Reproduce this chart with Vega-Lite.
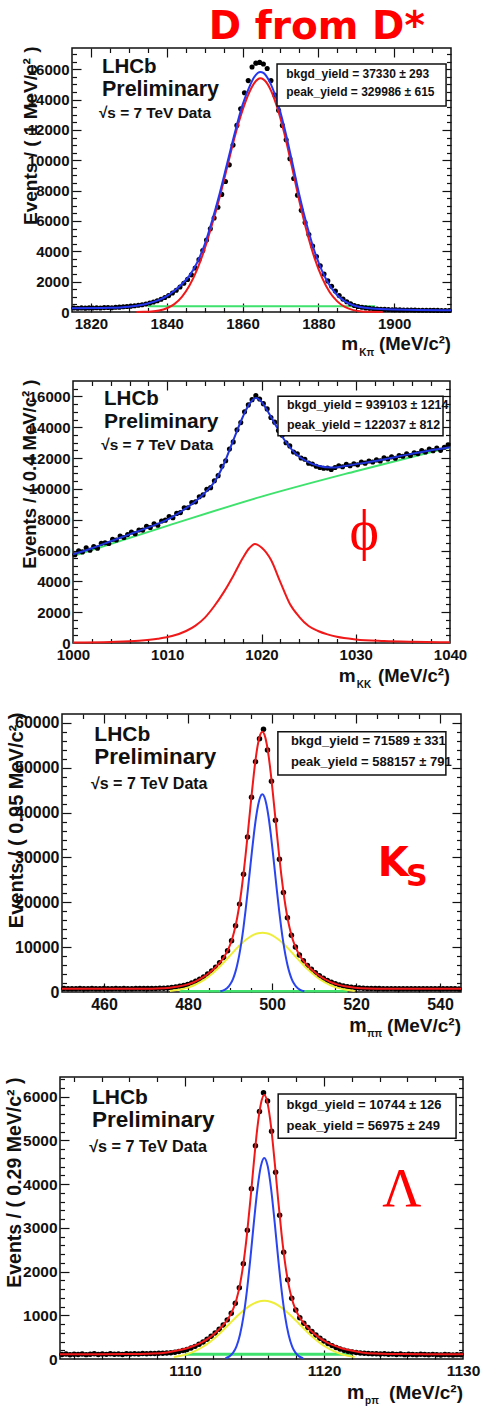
{
"$schema": "https://vega.github.io/schema/vega-lite/v6.json",
"autosize": {"type": "pad"},
"padding": {"left": 3, "top": 7, "right": 0, "bottom": 0},
"background": "white",
"bounds": "flush",
"center": true,
"spacing": 0,
"config": {
  "view": {"stroke": "#111", "strokeWidth": 1.5},
  "font": "Liberation Sans",
  "axis": {"domain": false, "grid": false, "labelFont": "Liberation Sans", "labelFontWeight": "bold", "labelColor": "#111", "labelFlush": false, "labelOverlap": false, "labelBound": false, "tickColor": "#111", "tickWidth": 1.2, "titleFont": "Liberation Sans", "titleFontWeight": "bold", "titleColor": "#111"},
  "text": {"font": "Liberation Sans", "fontWeight": "bold", "color": "#111"}
},
"datasets": {
"p1d": [{"x":1815.5,"y":260},{"x":1816.5,"y":250},{"x":1817.5,"y":270},{"x":1818.5,"y":255},{"x":1819.5,"y":270},{"x":1820.5,"y":260},{"x":1821.5,"y":280},{"x":1822.5,"y":265},{"x":1823.5,"y":290},{"x":1824.5,"y":300},{"x":1825.5,"y":285},{"x":1826.5,"y":310},{"x":1827.5,"y":320},{"x":1828.5,"y":345},{"x":1829.5,"y":360},{"x":1830.5,"y":385},{"x":1831.5,"y":410},{"x":1832.5,"y":445},{"x":1833.5,"y":480},{"x":1834.5,"y":530},{"x":1835.5,"y":590},{"x":1836.5,"y":660},{"x":1837.5,"y":745},{"x":1838.5,"y":840},{"x":1839.5,"y":960},{"x":1840.5,"y":1080},{"x":1841.5,"y":1250},{"x":1842.5,"y":1430},{"x":1843.5,"y":1650},{"x":1844.5,"y":1890},{"x":1845.5,"y":2150},{"x":1846.5,"y":2450},{"x":1847.5,"y":2900},{"x":1848.5,"y":3450},{"x":1849.5,"y":4050},{"x":1850.5,"y":4750},{"x":1851.5,"y":5480},{"x":1852.5,"y":6200},{"x":1853.5,"y":6900},{"x":1854.5,"y":7750},{"x":1855.5,"y":8600},{"x":1856.5,"y":9700},{"x":1857.5,"y":11000},{"x":1858.5,"y":12300},{"x":1859.5,"y":13400},{"x":1860.5,"y":14450},{"x":1861.5,"y":15250},{"x":1862.5,"y":16150},{"x":1863.5,"y":16400},{"x":1864.5,"y":16450},{"x":1865.5,"y":16350},{"x":1866.5,"y":16050},{"x":1867.5,"y":15250},{"x":1868.5,"y":14300},{"x":1869.5,"y":13300},{"x":1870.5,"y":12300},{"x":1871.5,"y":11350},{"x":1872.5,"y":10100},{"x":1873.5,"y":8800},{"x":1874.5,"y":7700},{"x":1875.5,"y":6700},{"x":1876.5,"y":5900},{"x":1877.5,"y":5100},{"x":1878.5,"y":4350},{"x":1879.5,"y":3650},{"x":1880.5,"y":3050},{"x":1881.5,"y":2500},{"x":1882.5,"y":2050},{"x":1883.5,"y":1700},{"x":1884.5,"y":1380},{"x":1885.5,"y":1080},{"x":1886.5,"y":850},{"x":1887.5,"y":680},{"x":1888.5,"y":540},{"x":1889.5,"y":430},{"x":1890.5,"y":360},{"x":1891.5,"y":310},{"x":1892.5,"y":270},{"x":1893.5,"y":240},{"x":1894.5,"y":215},{"x":1895.5,"y":195},{"x":1896.5,"y":180},{"x":1897.5,"y":170},{"x":1898.5,"y":160},{"x":1899.5,"y":150},{"x":1900.5,"y":145},{"x":1901.5,"y":140},{"x":1902.5,"y":135},{"x":1903.5,"y":130},{"x":1904.5,"y":130},{"x":1905.5,"y":125},{"x":1906.5,"y":120},{"x":1907.5,"y":120},{"x":1908.5,"y":115},{"x":1909.5,"y":110},{"x":1910.5,"y":110},{"x":1911.5,"y":105},{"x":1912.5,"y":100},{"x":1913.5,"y":100},{"x":1914.5,"y":95}],
"p1c": [
{"c":"b","x":1815,"y":250},{"c":"b","x":1825,"y":280},{"c":"b","x":1830,"y":350},{"c":"b","x":1835,"y":560},{"c":"b","x":1838,"y":800},{"c":"b","x":1840,"y":1050},{"c":"b","x":1842,"y":1400},{"c":"b","x":1844,"y":1850},{"c":"b","x":1846,"y":2400},{"c":"b","x":1848,"y":3250},{"c":"b","x":1850,"y":4450},{"c":"b","x":1852,"y":6050},{"c":"b","x":1854,"y":7850},{"c":"b","x":1856,"y":9850},{"c":"b","x":1858,"y":11850},{"c":"b","x":1860,"y":13650},{"c":"b","x":1862,"y":14950},{"c":"b","x":1863,"y":15450},{"c":"b","x":1864,"y":15750},{"c":"b","x":1864.7,"y":15820},{"c":"b","x":1865.5,"y":15760},{"c":"b","x":1867,"y":15250},{"c":"b","x":1869,"y":14000},{"c":"b","x":1871,"y":12200},{"c":"b","x":1873,"y":10000},{"c":"b","x":1875,"y":7700},{"c":"b","x":1877,"y":5700},{"c":"b","x":1879,"y":4000},{"c":"b","x":1881,"y":2700},{"c":"b","x":1883,"y":1750},{"c":"b","x":1885,"y":1100},{"c":"b","x":1887,"y":700},{"c":"b","x":1889,"y":460},{"c":"b","x":1891,"y":330},{"c":"b","x":1894,"y":230},{"c":"b","x":1900,"y":160},{"c":"b","x":1915,"y":110},
{"c":"r","x":1832,"y":0},{"c":"r","x":1834,"y":10},{"c":"r","x":1836,"y":30},{"c":"r","x":1838,"y":100},{"c":"r","x":1840,"y":250},{"c":"r","x":1842,"y":520},{"c":"r","x":1844,"y":1000},{"c":"r","x":1846,"y":1750},{"c":"r","x":1848,"y":2800},{"c":"r","x":1850,"y":4150},{"c":"r","x":1852,"y":5800},{"c":"r","x":1854,"y":7600},{"c":"r","x":1856,"y":9600},{"c":"r","x":1858,"y":11600},{"c":"r","x":1860,"y":13300},{"c":"r","x":1862,"y":14600},{"c":"r","x":1863,"y":15050},{"c":"r","x":1864,"y":15330},{"c":"r","x":1864.7,"y":15400},{"c":"r","x":1865.5,"y":15330},{"c":"r","x":1867,"y":14850},{"c":"r","x":1869,"y":13600},{"c":"r","x":1871,"y":11800},{"c":"r","x":1873,"y":9600},{"c":"r","x":1875,"y":7300},{"c":"r","x":1877,"y":5250},{"c":"r","x":1879,"y":3550},{"c":"r","x":1881,"y":2250},{"c":"r","x":1883,"y":1300},{"c":"r","x":1885,"y":700},{"c":"r","x":1887,"y":330},{"c":"r","x":1889,"y":140},{"c":"r","x":1891,"y":50},{"c":"r","x":1893,"y":10},{"c":"r","x":1897,"y":0},
{"c":"g","x":1835,"y":380},{"c":"g","x":1895,"y":380}],
"p2d": [{"x":1000.2,"y":5730},{"x":1000.6,"y":5990},{"x":1001.0,"y":5910},{"x":1001.4,"y":6180},{"x":1001.8,"y":6020},{"x":1002.2,"y":6255},{"x":1002.6,"y":6155},{"x":1003.0,"y":6465},{"x":1003.4,"y":6505},{"x":1003.8,"y":6455},{"x":1004.2,"y":6725},{"x":1004.6,"y":6685},{"x":1005.0,"y":6945},{"x":1005.4,"y":6845},{"x":1005.8,"y":7035},{"x":1006.2,"y":7205},{"x":1006.6,"y":7095},{"x":1007.0,"y":7335},{"x":1007.4,"y":7325},{"x":1007.8,"y":7575},{"x":1008.2,"y":7490},{"x":1008.6,"y":7730},{"x":1009.0,"y":7640},{"x":1009.4,"y":7920},{"x":1009.8,"y":7970},{"x":1010.2,"y":8200},{"x":1010.6,"y":8130},{"x":1011.0,"y":8410},{"x":1011.4,"y":8460},{"x":1011.8,"y":8780},{"x":1012.2,"y":8780},{"x":1012.6,"y":9110},{"x":1013.0,"y":9160},{"x":1013.4,"y":9490},{"x":1013.8,"y":9610},{"x":1014.2,"y":9980},{"x":1014.6,"y":10080},{"x":1015.0,"y":10530},{"x":1015.4,"y":10860},{"x":1015.8,"y":11470},{"x":1016.2,"y":11830},{"x":1016.6,"y":12590},{"x":1017.0,"y":13050},{"x":1017.4,"y":13830},{"x":1017.8,"y":14300},{"x":1018.2,"y":15000},{"x":1018.6,"y":15450},{"x":1019.0,"y":15790},{"x":1019.4,"y":16050},{"x":1019.8,"y":15830},{"x":1020.2,"y":15530},{"x":1020.6,"y":15190},{"x":1021.0,"y":14630},{"x":1021.4,"y":14330},{"x":1021.8,"y":13790},{"x":1022.2,"y":13480},{"x":1022.6,"y":12990},{"x":1023.0,"y":12790},{"x":1023.4,"y":12390},{"x":1023.8,"y":12280},{"x":1024.2,"y":12000},{"x":1024.6,"y":11920},{"x":1025.0,"y":11670},{"x":1025.4,"y":11610},{"x":1025.8,"y":11470},{"x":1026.2,"y":11390},{"x":1026.6,"y":11340},{"x":1027.0,"y":11350},{"x":1027.4,"y":11260},{"x":1027.8,"y":11390},{"x":1028.2,"y":11500},{"x":1028.6,"y":11440},{"x":1029.0,"y":11590},{"x":1029.4,"y":11500},{"x":1029.8,"y":11630},{"x":1030.2,"y":11560},{"x":1030.6,"y":11740},{"x":1031.0,"y":11670},{"x":1031.4,"y":11805},{"x":1031.8,"y":11740},{"x":1032.2,"y":11880},{"x":1032.6,"y":11815},{"x":1033.0,"y":12010},{"x":1033.4,"y":11935},{"x":1033.8,"y":12080},{"x":1034.2,"y":11985},{"x":1034.6,"y":12160},{"x":1035.0,"y":12120},{"x":1035.4,"y":12280},{"x":1035.8,"y":12165},{"x":1036.2,"y":12345},{"x":1036.6,"y":12290},{"x":1037.0,"y":12480},{"x":1037.4,"y":12390},{"x":1037.8,"y":12590},{"x":1038.2,"y":12480},{"x":1038.6,"y":12650},{"x":1039.0,"y":12500},{"x":1039.4,"y":12700},{"x":1039.8,"y":12860}],
"p2c": [
{"c":"b","x":1000,"y":5750},{"c":"b","x":1002,"y":6150},{"c":"b","x":1004,"y":6600},{"c":"b","x":1006,"y":7050},{"c":"b","x":1008,"y":7500},{"c":"b","x":1010,"y":8000},{"c":"b","x":1011,"y":8350},{"c":"b","x":1012,"y":8750},{"c":"b","x":1013,"y":9200},{"c":"b","x":1014,"y":9750},{"c":"b","x":1015,"y":10450},{"c":"b","x":1016,"y":11600},{"c":"b","x":1017,"y":13150},{"c":"b","x":1018,"y":14650},{"c":"b","x":1018.7,"y":15500},{"c":"b","x":1019.4,"y":15900},{"c":"b","x":1020,"y":15650},{"c":"b","x":1020.6,"y":15100},{"c":"b","x":1021.4,"y":14250},{"c":"b","x":1022.4,"y":13200},{"c":"b","x":1023.5,"y":12350},{"c":"b","x":1024.9,"y":11750},{"c":"b","x":1026,"y":11500},{"c":"b","x":1027.4,"y":11380},{"c":"b","x":1029,"y":11500},{"c":"b","x":1031,"y":11700},{"c":"b","x":1034.5,"y":12100},{"c":"b","x":1037,"y":12400},{"c":"b","x":1040,"y":12700},
{"c":"r","x":1000,"y":30},{"c":"r","x":1004,"y":70},{"c":"r","x":1007,"y":150},{"c":"r","x":1009,"y":280},{"c":"r","x":1010.5,"y":450},{"c":"r","x":1012,"y":780},{"c":"r","x":1013,"y":1130},{"c":"r","x":1014,"y":1650},{"c":"r","x":1015,"y":2400},{"c":"r","x":1016,"y":3300},{"c":"r","x":1017,"y":4350},{"c":"r","x":1018,"y":5500},{"c":"r","x":1018.7,"y":6150},{"c":"r","x":1019.3,"y":6430},{"c":"r","x":1020,"y":6200},{"c":"r","x":1021,"y":5400},{"c":"r","x":1022,"y":3950},{"c":"r","x":1023,"y":2550},{"c":"r","x":1024,"y":1700},{"c":"r","x":1025,"y":1100},{"c":"r","x":1026,"y":780},{"c":"r","x":1027,"y":560},{"c":"r","x":1028,"y":400},{"c":"r","x":1030,"y":230},{"c":"r","x":1033,"y":130},{"c":"r","x":1036,"y":80},{"c":"r","x":1040,"y":45},
{"c":"g","x":1000,"y":5650},{"c":"g","x":1010,"y":7600},{"c":"g","x":1020,"y":9500},{"c":"g","x":1030,"y":11150},{"c":"g","x":1040,"y":12700}],
"p3d": [{"x":450.475,"y":760},{"x":451.425,"y":720},{"x":452.375,"y":750},{"x":453.325,"y":730},{"x":454.275,"y":770},{"x":455.225,"y":740},{"x":456.175,"y":720},{"x":457.125,"y":760},{"x":458.075,"y":745},{"x":459.025,"y":730},{"x":459.975,"y":770},{"x":460.925,"y":750},{"x":461.875,"y":735},{"x":462.825,"y":760},{"x":463.775,"y":745},{"x":464.725,"y":770},{"x":465.675,"y":755},{"x":466.625,"y":740},{"x":467.575,"y":775},{"x":468.525,"y":760},{"x":469.475,"y":790},{"x":470.425,"y":770},{"x":471.375,"y":800},{"x":472.325,"y":790},{"x":473.275,"y":820},{"x":474.225,"y":860},{"x":475.175,"y":910},{"x":476.125,"y":1000},{"x":477.075,"y":1110},{"x":478.025,"y":1260},{"x":478.975,"y":1450},{"x":479.925,"y":1700},{"x":480.875,"y":2000},{"x":481.825,"y":2380},{"x":482.775,"y":2830},{"x":483.725,"y":3370},{"x":484.675,"y":3990},{"x":485.625,"y":4700},{"x":486.575,"y":5550},{"x":487.525,"y":6500},{"x":488.475,"y":7670},{"x":489.425,"y":9220},{"x":490.375,"y":11430},{"x":491.325,"y":14750},{"x":492.275,"y":19600},{"x":493.225,"y":26280},{"x":494.175,"y":34550},{"x":495.125,"y":43450},{"x":496.075,"y":51360},{"x":497.025,"y":56460},{"x":497.975,"y":58600},{"x":498.925,"y":53950},{"x":499.875,"y":47000},{"x":500.825,"y":38280},{"x":501.775,"y":29600},{"x":502.725,"y":22190},{"x":503.675,"y":16580},{"x":504.625,"y":12670},{"x":505.575,"y":10050},{"x":506.525,"y":8250},{"x":507.475,"y":6950},{"x":508.425,"y":5930},{"x":509.375,"y":5050},{"x":510.325,"y":4280},{"x":511.275,"y":3620},{"x":512.225,"y":3050},{"x":513.175,"y":2560},{"x":514.125,"y":2160},{"x":515.075,"y":1820},{"x":516.025,"y":1550},{"x":516.975,"y":1340},{"x":517.925,"y":1170},{"x":518.875,"y":1050},{"x":519.825,"y":950},{"x":520.775,"y":880},{"x":521.725,"y":830},{"x":522.675,"y":800},{"x":523.625,"y":780},{"x":524.575,"y":760},{"x":525.525,"y":770},{"x":526.475,"y":745},{"x":527.425,"y":730},{"x":528.375,"y":755},{"x":529.325,"y":740},{"x":530.275,"y":720},{"x":531.225,"y":750},{"x":532.175,"y":735},{"x":533.125,"y":720},{"x":534.075,"y":745},{"x":535.025,"y":730},{"x":535.975,"y":710},{"x":536.925,"y":740},{"x":537.875,"y":720},{"x":538.825,"y":705},{"x":539.775,"y":730},{"x":540.725,"y":715},{"x":541.675,"y":700},{"x":542.625,"y":720},{"x":543.575,"y":705},{"x":544.525,"y":690}],
"p3c": [
{"c":"r","x":450,"y":720},{"c":"r","x":460,"y":725},{"c":"r","x":470,"y":745},{"c":"r","x":472.7,"y":794},{"c":"r","x":475.7,"y":963},{"c":"r","x":477.7,"y":1210},{"c":"r","x":479.7,"y":1638},{"c":"r","x":480.7,"y":1944},{"c":"r","x":481.7,"y":2327},{"c":"r","x":482.7,"y":2795},{"c":"r","x":483.7,"y":3356},{"c":"r","x":484.7,"y":4011},{"c":"r","x":485.7,"y":4780},{"c":"r","x":486.7,"y":5657},{"c":"r","x":487.7,"y":6694},{"c":"r","x":488.7,"y":7996},{"c":"r","x":489.7,"y":9783},{"c":"r","x":490.2,"y":10975},{"c":"r","x":490.7,"y":12450},{"c":"r","x":491.2,"y":14270},{"c":"r","x":491.7,"y":16510},{"c":"r","x":492.2,"y":19230},{"c":"r","x":492.7,"y":22470},{"c":"r","x":493.2,"y":26220},{"c":"r","x":493.7,"y":30440},{"c":"r","x":494.2,"y":35000},{"c":"r","x":494.7,"y":39740},{"c":"r","x":495.2,"y":44430},{"c":"r","x":495.7,"y":48820},{"c":"r","x":496.2,"y":52600},{"c":"r","x":496.7,"y":55540},{"c":"r","x":497.2,"y":57390},{"c":"r","x":497.7,"y":58026},{"c":"r","x":498.2,"y":57390},{"c":"r","x":498.7,"y":55540},{"c":"r","x":499.2,"y":52600},{"c":"r","x":499.7,"y":48820},{"c":"r","x":500.2,"y":44430},{"c":"r","x":500.7,"y":39740},{"c":"r","x":501.2,"y":35000},{"c":"r","x":501.7,"y":30440},{"c":"r","x":502.2,"y":26220},{"c":"r","x":502.7,"y":22470},{"c":"r","x":503.2,"y":19230},{"c":"r","x":503.7,"y":16510},{"c":"r","x":504.2,"y":14270},{"c":"r","x":504.7,"y":12450},{"c":"r","x":505.2,"y":10975},{"c":"r","x":505.7,"y":9783},{"c":"r","x":506.7,"y":7996},{"c":"r","x":507.7,"y":6694},{"c":"r","x":508.7,"y":5657},{"c":"r","x":509.7,"y":4780},{"c":"r","x":510.7,"y":4011},{"c":"r","x":511.7,"y":3356},{"c":"r","x":512.7,"y":2795},{"c":"r","x":513.7,"y":2327},{"c":"r","x":514.7,"y":1944},{"c":"r","x":515.7,"y":1638},{"c":"r","x":517.7,"y":1210},{"c":"r","x":519.7,"y":963},{"c":"r","x":522.7,"y":794},{"c":"r","x":527.7,"y":740},{"c":"r","x":535,"y":725},{"c":"r","x":545,"y":720},
{"c":"b","x":487.7,"y":170},{"c":"b","x":488.7,"y":490},{"c":"b","x":489.7,"y":1260},{"c":"b","x":490.2,"y":1937},{"c":"b","x":490.7,"y":2898},{"c":"b","x":491.2,"y":4216},{"c":"b","x":491.7,"y":5970},{"c":"b","x":492.2,"y":8216},{"c":"b","x":492.7,"y":11000},{"c":"b","x":493.2,"y":14320},{"c":"b","x":493.7,"y":18130},{"c":"b","x":494.2,"y":22330},{"c":"b","x":494.7,"y":26750},{"c":"b","x":495.2,"y":31160},{"c":"b","x":495.7,"y":35310},{"c":"b","x":496.2,"y":38920},{"c":"b","x":496.7,"y":41720},{"c":"b","x":497.2,"y":43490},{"c":"b","x":497.7,"y":44100},{"c":"b","x":498.2,"y":43490},{"c":"b","x":498.7,"y":41720},{"c":"b","x":499.2,"y":38920},{"c":"b","x":499.7,"y":35310},{"c":"b","x":500.2,"y":31160},{"c":"b","x":500.7,"y":26750},{"c":"b","x":501.2,"y":22330},{"c":"b","x":501.7,"y":18130},{"c":"b","x":502.2,"y":14320},{"c":"b","x":502.7,"y":11000},{"c":"b","x":503.2,"y":8216},{"c":"b","x":503.7,"y":5970},{"c":"b","x":504.2,"y":4216},{"c":"b","x":504.7,"y":2898},{"c":"b","x":505.2,"y":1937},{"c":"b","x":505.7,"y":1260},{"c":"b","x":506.7,"y":490},{"c":"b","x":507.7,"y":170},
{"c":"y","x":475.7,"y":247},{"c":"y","x":477.7,"y":494},{"c":"y","x":479.7,"y":922},{"c":"y","x":480.7,"y":1228},{"c":"y","x":481.7,"y":1611},{"c":"y","x":482.7,"y":2079},{"c":"y","x":483.7,"y":2640},{"c":"y","x":484.7,"y":3295},{"c":"y","x":485.7,"y":4046},{"c":"y","x":486.7,"y":4888},{"c":"y","x":487.7,"y":5808},{"c":"y","x":488.7,"y":6790},{"c":"y","x":489.7,"y":7807},{"c":"y","x":490.7,"y":8832},{"c":"y","x":491.7,"y":9830},{"c":"y","x":492.7,"y":10760},{"c":"y","x":493.7,"y":11590},{"c":"y","x":494.7,"y":12270},{"c":"y","x":495.7,"y":12790},{"c":"y","x":496.7,"y":13100},{"c":"y","x":497.7,"y":13210},{"c":"y","x":498.7,"y":13100},{"c":"y","x":499.7,"y":12790},{"c":"y","x":500.7,"y":12270},{"c":"y","x":501.7,"y":11590},{"c":"y","x":502.7,"y":10760},{"c":"y","x":503.7,"y":9830},{"c":"y","x":504.7,"y":8832},{"c":"y","x":505.7,"y":7807},{"c":"y","x":506.7,"y":6790},{"c":"y","x":507.7,"y":5808},{"c":"y","x":508.7,"y":4888},{"c":"y","x":509.7,"y":4046},{"c":"y","x":510.7,"y":3295},{"c":"y","x":511.7,"y":2640},{"c":"y","x":512.7,"y":2079},{"c":"y","x":513.7,"y":1611},{"c":"y","x":514.7,"y":1228},{"c":"y","x":515.7,"y":922},{"c":"y","x":517.7,"y":494},{"c":"y","x":519.7,"y":247},
{"c":"g","x":478,"y":150},{"c":"g","x":518,"y":150}],
"p4d": [{"x":1101.145,"y":105},{"x":1101.435,"y":112},{"x":1101.725,"y":98},{"x":1102.015,"y":110},{"x":1102.305,"y":104},{"x":1102.595,"y":115},{"x":1102.885,"y":100},{"x":1103.175,"y":108},{"x":1103.465,"y":118},{"x":1103.755,"y":103},{"x":1104.045,"y":112},{"x":1104.335,"y":106},{"x":1104.625,"y":120},{"x":1104.915,"y":109},{"x":1105.205,"y":115},{"x":1105.495,"y":104},{"x":1105.785,"y":118},{"x":1106.075,"y":112},{"x":1106.365,"y":122},{"x":1106.655,"y":115},{"x":1106.945,"y":125},{"x":1107.235,"y":118},{"x":1107.525,"y":128},{"x":1107.815,"y":124},{"x":1108.105,"y":132},{"x":1108.395,"y":130},{"x":1108.685,"y":138},{"x":1108.975,"y":143},{"x":1109.265,"y":155},{"x":1109.555,"y":172},{"x":1109.845,"y":193},{"x":1110.135,"y":219},{"x":1110.425,"y":251},{"x":1110.715,"y":289},{"x":1111.005,"y":335},{"x":1111.295,"y":389},{"x":1111.585,"y":450},{"x":1111.875,"y":519},{"x":1112.165,"y":596},{"x":1112.455,"y":683},{"x":1112.745,"y":779},{"x":1113.035,"y":895},{"x":1113.325,"y":1047},{"x":1113.615,"y":1273},{"x":1113.905,"y":1630},{"x":1114.195,"y":2176},{"x":1114.485,"y":2946},{"x":1114.775,"y":3894},{"x":1115.065,"y":4875},{"x":1115.355,"y":5661},{"x":1115.645,"y":6090},{"x":1115.935,"y":5900},{"x":1116.225,"y":5208},{"x":1116.515,"y":4273},{"x":1116.805,"y":3289},{"x":1117.095,"y":2441},{"x":1117.385,"y":1811},{"x":1117.675,"y":1389},{"x":1117.965,"y":1121},{"x":1118.255,"y":946},{"x":1118.545,"y":820},{"x":1118.835,"y":718},{"x":1119.125,"y":627},{"x":1119.415,"y":548},{"x":1119.705,"y":476},{"x":1119.995,"y":411},{"x":1120.285,"y":354},{"x":1120.575,"y":306},{"x":1120.865,"y":264},{"x":1121.155,"y":230},{"x":1121.445,"y":202},{"x":1121.735,"y":179},{"x":1122.025,"y":161},{"x":1122.315,"y":147},{"x":1122.605,"y":138},{"x":1122.895,"y":130},{"x":1123.185,"y":125},{"x":1123.475,"y":118},{"x":1123.765,"y":122},{"x":1124.055,"y":112},{"x":1124.345,"y":119},{"x":1124.635,"y":108},{"x":1124.925,"y":115},{"x":1125.215,"y":104},{"x":1125.505,"y":112},{"x":1125.795,"y":100},{"x":1126.085,"y":110},{"x":1126.375,"y":105},{"x":1126.665,"y":98},{"x":1126.955,"y":108},{"x":1127.245,"y":102},{"x":1127.535,"y":96},{"x":1127.825,"y":106},{"x":1128.115,"y":100},{"x":1128.405,"y":94},{"x":1128.695,"y":103},{"x":1128.985,"y":97},{"x":1129.275,"y":92},{"x":1129.565,"y":100},{"x":1129.855,"y":95}],
"p4c": [
{"c":"r","x":1101,"y":108},{"c":"r","x":1105.7,"y":112},{"c":"r","x":1107.7,"y":125},{"c":"r","x":1108.7,"y":150},{"c":"r","x":1109.7,"y":210},{"c":"r","x":1110.2,"y":250},{"c":"r","x":1110.7,"y":310},{"c":"r","x":1111.2,"y":380},{"c":"r","x":1111.7,"y":476},{"c":"r","x":1112.2,"y":606},{"c":"r","x":1112.7,"y":764},{"c":"r","x":1113.2,"y":975},{"c":"r","x":1113.45,"y":1133},{"c":"r","x":1113.7,"y":1362},{"c":"r","x":1113.95,"y":1702},{"c":"r","x":1114.2,"y":2187},{"c":"r","x":1114.45,"y":2840},{"c":"r","x":1114.7,"y":3637},{"c":"r","x":1114.95,"y":4496},{"c":"r","x":1115.2,"y":5281},{"c":"r","x":1115.45,"y":5829},{"c":"r","x":1115.7,"y":6037},{"c":"r","x":1115.95,"y":5829},{"c":"r","x":1116.2,"y":5281},{"c":"r","x":1116.45,"y":4496},{"c":"r","x":1116.7,"y":3637},{"c":"r","x":1116.95,"y":2840},{"c":"r","x":1117.2,"y":2187},{"c":"r","x":1117.45,"y":1702},{"c":"r","x":1117.7,"y":1362},{"c":"r","x":1117.95,"y":1133},{"c":"r","x":1118.2,"y":975},{"c":"r","x":1118.7,"y":764},{"c":"r","x":1119.2,"y":606},{"c":"r","x":1119.7,"y":476},{"c":"r","x":1120.2,"y":380},{"c":"r","x":1120.7,"y":310},{"c":"r","x":1121.2,"y":250},{"c":"r","x":1121.7,"y":210},{"c":"r","x":1122.7,"y":150},{"c":"r","x":1123.7,"y":125},{"c":"r","x":1125.7,"y":112},{"c":"r","x":1130,"y":108},
{"c":"b","x":1112.9,"y":20},{"c":"b","x":1113.2,"y":61},{"c":"b","x":1113.45,"y":139},{"c":"b","x":1113.7,"y":289},{"c":"b","x":1113.95,"y":554},{"c":"b","x":1114.2,"y":969},{"c":"b","x":1114.45,"y":1560},{"c":"b","x":1114.7,"y":2302},{"c":"b","x":1114.95,"y":3118},{"c":"b","x":1115.2,"y":3870},{"c":"b","x":1115.45,"y":4405},{"c":"b","x":1115.7,"y":4600},{"c":"b","x":1115.95,"y":4405},{"c":"b","x":1116.2,"y":3870},{"c":"b","x":1116.45,"y":3118},{"c":"b","x":1116.7,"y":2302},{"c":"b","x":1116.95,"y":1560},{"c":"b","x":1117.2,"y":969},{"c":"b","x":1117.45,"y":554},{"c":"b","x":1117.7,"y":289},{"c":"b","x":1117.95,"y":139},{"c":"b","x":1118.2,"y":61},{"c":"b","x":1118.5,"y":20},
{"c":"y","x":1109.2,"y":45},{"c":"y","x":1109.7,"y":75},{"c":"y","x":1110.2,"y":118},{"c":"y","x":1110.7,"y":180},{"c":"y","x":1111.2,"y":263},{"c":"y","x":1111.7,"y":369},{"c":"y","x":1112.2,"y":499},{"c":"y","x":1112.7,"y":648},{"c":"y","x":1113.2,"y":807},{"c":"y","x":1113.7,"y":966},{"c":"y","x":1114.2,"y":1111},{"c":"y","x":1114.7,"y":1228},{"c":"y","x":1115.2,"y":1304},{"c":"y","x":1115.7,"y":1330},{"c":"y","x":1116.2,"y":1304},{"c":"y","x":1116.7,"y":1228},{"c":"y","x":1117.2,"y":1111},{"c":"y","x":1117.7,"y":966},{"c":"y","x":1118.2,"y":807},{"c":"y","x":1118.7,"y":648},{"c":"y","x":1119.2,"y":499},{"c":"y","x":1119.7,"y":369},{"c":"y","x":1120.2,"y":263},{"c":"y","x":1120.7,"y":180},{"c":"y","x":1121.2,"y":118},{"c":"y","x":1121.7,"y":75},{"c":"y","x":1122.2,"y":45},
{"c":"g","x":1110,"y":110},{"c":"g","x":1122,"y":110}]
},
"vconcat": [
{
 "width": 379, "height": 264,
 "resolve": {"axis": {"x": "independent", "y": "independent"}},
 "layer": [
  {"data": {"name": "p1c"}, "transform": [{"filter": "datum.c == 'g'"}], "mark": {"type": "line", "color": "#3ee26c", "strokeWidth": 2, "interpolate": "monotone"},
   "encoding": {"x": {"field": "x", "type": "quantitative", "scale": {"domain": [1815, 1915], "nice": false}, "axis": {"orient": "bottom", "values": [1825,1830,1835,1845,1850,1855,1865,1870,1875,1885,1890,1895,1905,1910], "labels": false, "tickSize": -4.5, "title": null}},
                "y": {"field": "y", "type": "quantitative", "scale": {"domain": [0, 17400], "nice": false}, "axis": {"orient": "left", "values": [500,1000,1500,2500,3000,3500,4500,5000,5500,6500,7000,7500,8500,9000,9500,10500,11000,11500,12500,13000,13500,14500,15000,15500,16500,17000], "labels": false, "tickSize": -4.5, "title": null}}}},
  {"data": {"name": "p1d"}, "mark": {"type": "circle", "color": "#000", "size": 26, "opacity": 1},
   "encoding": {"x": {"field": "x", "type": "quantitative", "scale": {"domain": [1815, 1915], "nice": false}, "axis": {"orient": "bottom", "values": [1820,1840,1860,1880,1900], "ticks": false, "labelPadding": 4, "labelFontSize": 15, "format": "d", "title": null}},
                "y": {"field": "y", "type": "quantitative", "scale": {"domain": [0, 17400], "nice": false}, "axis": {"orient": "left", "values": [0,2000,4000,6000,8000,10000,12000,14000,16000], "ticks": false, "labelPadding": 3, "labelFontSize": 15, "format": "d", "title": "Events / ( 1 MeV/c² )", "titleFontSize": 19, "titleAngle": 270, "titleAlign": "right", "titleBaseline": "alphabetic", "titleX": -36, "titleY": -2}}}},
  {"data": {"name": "p1c"}, "transform": [{"filter": "datum.c == 'r'"}], "mark": {"type": "line", "color": "#f01818", "strokeWidth": 2, "interpolate": "monotone"},
   "encoding": {"x": {"field": "x", "type": "quantitative", "scale": {"domain": [1815, 1915], "nice": false}, "axis": {"orient": "top", "values": [1820,1840,1860,1880,1900], "labels": false, "tickSize": -9, "title": null}},
                "y": {"field": "y", "type": "quantitative", "scale": {"domain": [0, 17400], "nice": false}, "axis": {"orient": "right", "values": [2000,4000,6000,8000,10000,12000,14000,16000], "labels": false, "tickSize": -9, "title": null}}}},
  {"data": {"name": "p1c"}, "transform": [{"filter": "datum.c == 'b'"}], "mark": {"type": "line", "color": "#2436f0", "strokeWidth": 2, "interpolate": "monotone"},
   "encoding": {"x": {"field": "x", "type": "quantitative", "scale": {"domain": [1815, 1915], "nice": false}, "axis": {"orient": "bottom", "values": [1820,1840,1860,1880,1900], "labels": false, "tickSize": -9, "title": null}},
                "y": {"field": "y", "type": "quantitative", "scale": {"domain": [0, 17400], "nice": false}, "axis": {"orient": "left", "values": [2000,4000,6000,8000,10000,12000,14000,16000], "labels": false, "tickSize": -9, "title": null}}}},
  {"data": {"values": [{}]}, "mark": {"type": "rect", "fill": "white", "stroke": "#111", "strokeWidth": 1.5},
   "encoding": {"x": {"datum": 1869.1, "type": "quantitative", "scale": {"domain": [1815, 1915], "nice": false}, "axis": {"orient": "top", "values": [1825,1830,1835,1845,1850,1855,1865,1870,1875,1885,1890,1895,1905,1910], "labels": false, "tickSize": -4.5, "title": null}}, "x2": {"datum": 1913.7},
                "y": {"datum": 16343, "type": "quantitative", "scale": {"domain": [0, 17400], "nice": false}, "axis": {"orient": "right", "values": [500,1000,1500,2500,3000,3500,4500,5000,5500,6500,7000,7500,8500,9000,9500,10500,11000,11500,12500,13000,13500,14500,15000,15500,16500,17000], "labels": false, "tickSize": -4.5, "title": null}}, "y2": {"datum": 13575}}},
  {"data": {"values": [{}]}, "mark": {"type": "text", "text": "bkgd_yield =  37330 ± 293", "fontSize": 12, "align": "left", "baseline": "alphabetic"},
   "encoding": {"x": {"datum": 1871.5, "type": "quantitative", "scale": {"domain": [1815, 1915], "nice": false}, "axis": null}, "y": {"datum": 15420, "type": "quantitative", "scale": {"domain": [0, 17400], "nice": false}, "axis": null}}},
  {"data": {"values": [{}]}, "mark": {"type": "text", "text": "peak_yield =  329986 ± 615", "fontSize": 12, "align": "left", "baseline": "alphabetic"},
   "encoding": {"x": {"datum": 1871.5, "type": "quantitative", "scale": {"domain": [1815, 1915], "nice": false}, "axis": null}, "y": {"datum": 14234, "type": "quantitative", "scale": {"domain": [0, 17400], "nice": false}, "axis": null}}},
  {"data": {"values": [{}]}, "mark": {"type": "text", "text": "LHCb", "fontSize": 20.5, "align": "left", "baseline": "alphabetic"},
   "encoding": {"x": {"datum": 1822.9, "type": "quantitative", "scale": {"domain": [1815, 1915], "nice": false}, "axis": null}, "y": {"datum": 15750, "type": "quantitative", "scale": {"domain": [0, 17400], "nice": false}, "axis": null}}},
  {"data": {"values": [{}]}, "mark": {"type": "text", "text": "Preliminary", "fontSize": 21.5, "align": "left", "baseline": "alphabetic"},
   "encoding": {"x": {"datum": 1822.9, "type": "quantitative", "scale": {"domain": [1815, 1915], "nice": false}, "axis": null}, "y": {"datum": 14254, "type": "quantitative", "scale": {"domain": [0, 17400], "nice": false}, "axis": null}}},
  {"data": {"values": [{}]}, "mark": {"type": "text", "text": "√s = 7 TeV Data", "fontSize": 15.4, "align": "left", "baseline": "alphabetic"},
   "encoding": {"x": {"datum": 1822.1, "type": "quantitative", "scale": {"domain": [1815, 1915], "nice": false}, "axis": null}, "y": {"datum": 12765, "type": "quantitative", "scale": {"domain": [0, 17400], "nice": false}, "axis": null}}},
  {"data": {"values": [{}]}, "mark": {"type": "text", "text": "D from D*", "font": "DejaVu Sans", "fontSize": 39, "color": "#ff0000", "align": "center", "baseline": "alphabetic"},
   "encoding": {"x": {"datum": 1879.6, "type": "quantitative", "scale": {"domain": [1815, 1915], "nice": false}, "axis": null}, "y": {"datum": 17990, "type": "quantitative", "scale": {"domain": [0, 17400], "nice": false}, "axis": null}}},
  {"data": {"values": [{}]}, "mark": {"type": "text", "text": "(MeV/c²)", "fontSize": 18.5, "align": "right", "baseline": "alphabetic"},
   "encoding": {"x": {"datum": 1915, "type": "quantitative", "scale": {"domain": [1815, 1915], "nice": false}, "axis": null}, "y": {"datum": -2504, "type": "quantitative", "scale": {"domain": [0, 17400], "nice": false}, "axis": null}}},
  {"data": {"values": [{}]}, "mark": {"type": "text", "text": "m", "fontSize": 19, "align": "right", "baseline": "alphabetic"},
   "encoding": {"x": {"datum": 1890.5, "type": "quantitative", "scale": {"domain": [1815, 1915], "nice": false}, "axis": null}, "y": {"datum": -2504, "type": "quantitative", "scale": {"domain": [0, 17400], "nice": false}, "axis": null}}},
  {"data": {"values": [{}]}, "mark": {"type": "text", "text": "Kπ", "fontSize": 10, "align": "left", "baseline": "alphabetic"},
   "encoding": {"x": {"datum": 1890.8, "type": "quantitative", "scale": {"domain": [1815, 1915], "nice": false}, "axis": null}, "y": {"datum": -2900, "type": "quantitative", "scale": {"domain": [0, 17400], "nice": false}, "axis": null}}}
 ]
},
{"width": 10, "height": 69, "data": {"values": [{}]}, "mark": {"type": "point", "opacity": 0}, "view": {"stroke": null}},
{
 "width": 377, "height": 262,
 "resolve": {"axis": {"x": "independent", "y": "independent"}},
 "layer": [
  {"data": {"name": "p2c"}, "transform": [{"filter": "datum.c == 'g'"}], "mark": {"type": "line", "color": "#3ee26c", "strokeWidth": 2, "interpolate": "monotone"},
   "encoding": {"x": {"field": "x", "type": "quantitative", "scale": {"domain": [1000, 1040], "nice": false}, "axis": {"orient": "bottom", "values": [1002,1004,1006,1008,1012,1014,1016,1018,1022,1024,1026,1028,1032,1034,1036,1038], "labels": false, "tickSize": -4.5, "title": null}},
                "y": {"field": "y", "type": "quantitative", "scale": {"domain": [0, 17000], "nice": false}, "axis": {"orient": "left", "values": [500,1000,1500,2500,3000,3500,4500,5000,5500,6500,7000,7500,8500,9000,9500,10500,11000,11500,12500,13000,13500,14500,15000,15500,16500], "labels": false, "tickSize": -4.5, "title": null}}}},
  {"data": {"name": "p2d"}, "mark": {"type": "circle", "color": "#000", "size": 26, "opacity": 1},
   "encoding": {"x": {"field": "x", "type": "quantitative", "scale": {"domain": [1000, 1040], "nice": false}, "axis": {"orient": "bottom", "values": [1000,1010,1020,1030,1040], "ticks": false, "labelPadding": 4, "labelFontSize": 15, "format": "d", "title": null}},
                "y": {"field": "y", "type": "quantitative", "scale": {"domain": [0, 17000], "nice": false}, "axis": {"orient": "left", "values": [0,2000,4000,6000,8000,10000,12000,14000,16000], "ticks": false, "labelPadding": 3, "labelFontSize": 15, "format": "d", "title": "Events / ( 0.4 MeV/c² )", "titleFontSize": 18.5, "titleAngle": 270, "titleAlign": "right", "titleBaseline": "alphabetic", "titleX": -38, "titleY": -2}}}},
  {"data": {"name": "p2c"}, "transform": [{"filter": "datum.c == 'r'"}], "mark": {"type": "line", "color": "#f01818", "strokeWidth": 2, "interpolate": "monotone"},
   "encoding": {"x": {"field": "x", "type": "quantitative", "scale": {"domain": [1000, 1040], "nice": false}, "axis": {"orient": "top", "values": [1010,1020,1030], "labels": false, "tickSize": -9, "title": null}},
                "y": {"field": "y", "type": "quantitative", "scale": {"domain": [0, 17000], "nice": false}, "axis": {"orient": "right", "values": [2000,4000,6000,8000,10000,12000,14000,16000], "labels": false, "tickSize": -9, "title": null}}}},
  {"data": {"name": "p2c"}, "transform": [{"filter": "datum.c == 'b'"}], "mark": {"type": "line", "color": "#1f33d8", "strokeWidth": 2, "interpolate": "monotone"},
   "encoding": {"x": {"field": "x", "type": "quantitative", "scale": {"domain": [1000, 1040], "nice": false}, "axis": {"orient": "bottom", "values": [1010,1020,1030], "labels": false, "tickSize": -9, "title": null}},
                "y": {"field": "y", "type": "quantitative", "scale": {"domain": [0, 17000], "nice": false}, "axis": {"orient": "left", "values": [2000,4000,6000,8000,10000,12000,14000,16000], "labels": false, "tickSize": -9, "title": null}}}},
  {"data": {"values": [{}]}, "mark": {"type": "rect", "fill": "white", "stroke": "#111", "strokeWidth": 1.5},
   "encoding": {"x": {"datum": 1021.75, "type": "quantitative", "scale": {"domain": [1000, 1040], "nice": false}, "axis": {"orient": "top", "values": [1002,1004,1006,1008,1012,1014,1016,1018,1022,1024,1026,1028,1032,1034,1036,1038], "labels": false, "tickSize": -4.5, "title": null}}, "x2": {"datum": 1039.26},
                "y": {"datum": 16008, "type": "quantitative", "scale": {"domain": [0, 17000], "nice": false}, "axis": {"orient": "right", "values": [500,1000,1500,2500,3000,3500,4500,5000,5500,6500,7000,7500,8500,9000,9500,10500,11000,11500,12500,13000,13500,14500,15000,15500,16500], "labels": false, "tickSize": -4.5, "title": null}}, "y2": {"datum": 13452}}},
  {"data": {"values": [{}]}, "mark": {"type": "text", "text": "bkgd_yield =  939103 ± 1214", "fontSize": 12.4, "align": "left", "baseline": "alphabetic"},
   "encoding": {"x": {"datum": 1022.7, "type": "quantitative", "scale": {"domain": [1000, 1040], "nice": false}, "axis": null}, "y": {"datum": 15184, "type": "quantitative", "scale": {"domain": [0, 17000], "nice": false}, "axis": null}}},
  {"data": {"values": [{}]}, "mark": {"type": "text", "text": "peak_yield =  122037 ± 812", "fontSize": 12.4, "align": "left", "baseline": "alphabetic"},
   "encoding": {"x": {"datum": 1022.7, "type": "quantitative", "scale": {"domain": [1000, 1040], "nice": false}, "axis": null}, "y": {"datum": 13886, "type": "quantitative", "scale": {"domain": [0, 17000], "nice": false}, "axis": null}}},
  {"data": {"values": [{}]}, "mark": {"type": "text", "text": "LHCb", "fontSize": 20.5, "align": "left", "baseline": "alphabetic"},
   "encoding": {"x": {"datum": 1003.3, "type": "quantitative", "scale": {"domain": [1000, 1040], "nice": false}, "axis": null}, "y": {"datum": 15444, "type": "quantitative", "scale": {"domain": [0, 17000], "nice": false}, "axis": null}}},
  {"data": {"values": [{}]}, "mark": {"type": "text", "text": "Preliminary", "fontSize": 21, "align": "left", "baseline": "alphabetic"},
   "encoding": {"x": {"datum": 1003.3, "type": "quantitative", "scale": {"domain": [1000, 1040], "nice": false}, "axis": null}, "y": {"datum": 13932, "type": "quantitative", "scale": {"domain": [0, 17000], "nice": false}, "axis": null}}},
  {"data": {"values": [{}]}, "mark": {"type": "text", "text": "√s = 7 TeV Data", "fontSize": 15.4, "align": "left", "baseline": "alphabetic"},
   "encoding": {"x": {"datum": 1003, "type": "quantitative", "scale": {"domain": [1000, 1040], "nice": false}, "axis": null}, "y": {"datum": 12524, "type": "quantitative", "scale": {"domain": [0, 17000], "nice": false}, "axis": null}}},
  {"data": {"values": [{}]}, "mark": {"type": "text", "text": "ϕ", "font": "Liberation Serif", "fontWeight": "normal", "fontSize": 56, "color": "#ff0000", "align": "center", "baseline": "alphabetic"},
   "encoding": {"x": {"datum": 1030.9, "type": "quantitative", "scale": {"domain": [1000, 1040], "nice": false}, "axis": null}, "y": {"datum": 6100, "type": "quantitative", "scale": {"domain": [0, 17000], "nice": false}, "axis": null}}},
  {"data": {"values": [{}]}, "mark": {"type": "text", "text": "(MeV/c²)", "fontSize": 18.5, "align": "right", "baseline": "alphabetic"},
   "encoding": {"x": {"datum": 1040, "type": "quantitative", "scale": {"domain": [1000, 1040], "nice": false}, "axis": null}, "y": {"datum": -2530, "type": "quantitative", "scale": {"domain": [0, 17000], "nice": false}, "axis": null}}},
  {"data": {"values": [{}]}, "mark": {"type": "text", "text": "m", "fontSize": 19, "align": "right", "baseline": "alphabetic"},
   "encoding": {"x": {"datum": 1030.0, "type": "quantitative", "scale": {"domain": [1000, 1040], "nice": false}, "axis": null}, "y": {"datum": -2530, "type": "quantitative", "scale": {"domain": [0, 17000], "nice": false}, "axis": null}}},
  {"data": {"values": [{}]}, "mark": {"type": "text", "text": "KK", "fontSize": 10, "align": "left", "baseline": "alphabetic"},
   "encoding": {"x": {"datum": 1030.1, "type": "quantitative", "scale": {"domain": [1000, 1040], "nice": false}, "axis": null}, "y": {"datum": -2920, "type": "quantitative", "scale": {"domain": [0, 17000], "nice": false}, "axis": null}}}
 ]
},
{"width": 10, "height": 71, "data": {"values": [{}]}, "mark": {"type": "point", "opacity": 0}, "view": {"stroke": null}},
{
 "width": 399, "height": 278,
 "resolve": {"axis": {"x": "independent", "y": "independent"}},
 "layer": [
  {"data": {"name": "p3c"}, "transform": [{"filter": "datum.c == 'g'"}], "mark": {"type": "line", "color": "#3ee26c", "strokeWidth": 2.5, "interpolate": "monotone"},
   "encoding": {"x": {"field": "x", "type": "quantitative", "scale": {"domain": [450, 545], "nice": false}, "axis": {"orient": "bottom", "values": [455,465,470,475,485,490,495,505,510,515,525,530,535], "labels": false, "tickSize": -4.5, "title": null}},
                "y": {"field": "y", "type": "quantitative", "scale": {"domain": [0, 62000], "nice": false}, "axis": {"orient": "left", "values": [2000,4000,6000,8000,12000,14000,16000,18000,22000,24000,26000,28000,32000,34000,36000,38000,42000,44000,46000,48000,52000,54000,56000,58000], "labels": false, "tickSize": -4.5, "title": null}}}},
  {"data": {"name": "p3d"}, "mark": {"type": "circle", "color": "#000", "size": 30, "opacity": 1},
   "encoding": {"x": {"field": "x", "type": "quantitative", "scale": {"domain": [450, 545], "nice": false}, "axis": {"orient": "bottom", "values": [460,480,500,520,540], "ticks": false, "labelPadding": 4, "labelFontSize": 16, "format": "d", "title": null}},
                "y": {"field": "y", "type": "quantitative", "scale": {"domain": [0, 62000], "nice": false}, "axis": {"orient": "left", "values": [0,10000,20000,30000,40000,50000,60000], "ticks": false, "labelPadding": 3, "labelFontSize": 16, "format": "d", "title": "Events / ( 0.95 MeV/c² )", "titleFontSize": 20, "titleAngle": 270, "titleAlign": "right", "titleBaseline": "alphabetic", "titleX": -40, "titleY": -2}}}},
  {"data": {"name": "p3c"}, "transform": [{"filter": "datum.c == 'y'"}], "mark": {"type": "line", "color": "#eeee3a", "strokeWidth": 2, "interpolate": "monotone"},
   "encoding": {"x": {"field": "x", "type": "quantitative", "scale": {"domain": [450, 545], "nice": false}, "axis": {"orient": "top", "values": [455,465,470,475,485,490,495,505,510,515,525,530,535], "labels": false, "tickSize": -4.5, "title": null}},
                "y": {"field": "y", "type": "quantitative", "scale": {"domain": [0, 62000], "nice": false}, "axis": {"orient": "right", "values": [2000,4000,6000,8000,12000,14000,16000,18000,22000,24000,26000,28000,32000,34000,36000,38000,42000,44000,46000,48000,52000,54000,56000,58000], "labels": false, "tickSize": -4.5, "title": null}}}},
  {"data": {"name": "p3c"}, "transform": [{"filter": "datum.c == 'b'"}], "mark": {"type": "line", "color": "#2a44f0", "strokeWidth": 2, "interpolate": "monotone"},
   "encoding": {"x": {"field": "x", "type": "quantitative", "scale": {"domain": [450, 545], "nice": false}, "axis": {"orient": "bottom", "values": [460,480,500,520,540], "labels": false, "tickSize": -9, "title": null}},
                "y": {"field": "y", "type": "quantitative", "scale": {"domain": [0, 62000], "nice": false}, "axis": {"orient": "left", "values": [10000,20000,30000,40000,50000,60000], "labels": false, "tickSize": -9, "title": null}}}},
  {"data": {"name": "p3c"}, "transform": [{"filter": "datum.c == 'r'"}], "mark": {"type": "line", "color": "#f01818", "strokeWidth": 2, "interpolate": "monotone"},
   "encoding": {"x": {"field": "x", "type": "quantitative", "scale": {"domain": [450, 545], "nice": false}, "axis": {"orient": "top", "values": [460,480,500,520,540], "labels": false, "tickSize": -9, "title": null}},
                "y": {"field": "y", "type": "quantitative", "scale": {"domain": [0, 62000], "nice": false}, "axis": {"orient": "right", "values": [10000,20000,30000,40000,50000,60000], "labels": false, "tickSize": -9, "title": null}}}},
  {"data": {"values": [{}]}, "mark": {"type": "rect", "fill": "white", "stroke": "#111", "strokeWidth": 1.5},
   "encoding": {"x": {"datum": 501.4, "type": "quantitative", "scale": {"domain": [450, 545], "nice": false}, "axis": null}, "x2": {"datum": 541.4},
                "y": {"datum": 58047, "type": "quantitative", "scale": {"domain": [0, 62000], "nice": false}, "axis": null}, "y2": {"datum": 48390}}},
  {"data": {"values": [{}]}, "mark": {"type": "text", "text": "bkgd_yield =  71589 ± 331", "fontSize": 13, "align": "left", "baseline": "alphabetic"},
   "encoding": {"x": {"datum": 504.5, "type": "quantitative", "scale": {"domain": [450, 545], "nice": false}, "axis": null}, "y": {"datum": 55080, "type": "quantitative", "scale": {"domain": [0, 62000], "nice": false}, "axis": null}}},
  {"data": {"values": [{}]}, "mark": {"type": "text", "text": "peak_yield =  588157 ± 791", "fontSize": 13, "align": "left", "baseline": "alphabetic"},
   "encoding": {"x": {"datum": 504.5, "type": "quantitative", "scale": {"domain": [450, 545], "nice": false}, "axis": null}, "y": {"datum": 50400, "type": "quantitative", "scale": {"domain": [0, 62000], "nice": false}, "axis": null}}},
  {"data": {"values": [{}]}, "mark": {"type": "text", "text": "LHCb", "fontSize": 21, "align": "left", "baseline": "alphabetic"},
   "encoding": {"x": {"datum": 457.7, "type": "quantitative", "scale": {"domain": [450, 545], "nice": false}, "axis": null}, "y": {"datum": 56040, "type": "quantitative", "scale": {"domain": [0, 62000], "nice": false}, "axis": null}}},
  {"data": {"values": [{}]}, "mark": {"type": "text", "text": "Preliminary", "fontSize": 22.4, "align": "left", "baseline": "alphabetic"},
   "encoding": {"x": {"datum": 457.7, "type": "quantitative", "scale": {"domain": [450, 545], "nice": false}, "axis": null}, "y": {"datum": 50844, "type": "quantitative", "scale": {"domain": [0, 62000], "nice": false}, "axis": null}}},
  {"data": {"values": [{}]}, "mark": {"type": "text", "text": "√s = 7 TeV Data", "fontSize": 16, "align": "left", "baseline": "alphabetic"},
   "encoding": {"x": {"datum": 456.9, "type": "quantitative", "scale": {"domain": [450, 545], "nice": false}, "axis": null}, "y": {"datum": 45270, "type": "quantitative", "scale": {"domain": [0, 62000], "nice": false}, "axis": null}}},
  {"data": {"values": [{}]}, "mark": {"type": "text", "text": "K", "font": "DejaVu Sans", "fontSize": 40, "color": "#ff0000", "align": "left", "baseline": "alphabetic"},
   "encoding": {"x": {"datum": 525.2, "type": "quantitative", "scale": {"domain": [450, 545], "nice": false}, "axis": null}, "y": {"datum": 25870, "type": "quantitative", "scale": {"domain": [0, 62000], "nice": false}, "axis": null}}},
  {"data": {"values": [{}]}, "mark": {"type": "text", "text": "S", "font": "DejaVu Sans", "fontSize": 30, "color": "#ff0000", "align": "left", "baseline": "alphabetic"},
   "encoding": {"x": {"datum": 531.9, "type": "quantitative", "scale": {"domain": [450, 545], "nice": false}, "axis": null}, "y": {"datum": 23640, "type": "quantitative", "scale": {"domain": [0, 62000], "nice": false}, "axis": null}}},
  {"data": {"values": [{}]}, "mark": {"type": "text", "text": "(MeV/c²)", "fontSize": 19, "align": "right", "baseline": "alphabetic"},
   "encoding": {"x": {"datum": 545, "type": "quantitative", "scale": {"domain": [450, 545], "nice": false}, "axis": null}, "y": {"datum": -8920, "type": "quantitative", "scale": {"domain": [0, 62000], "nice": false}, "axis": null}}},
  {"data": {"values": [{}]}, "mark": {"type": "text", "text": "m", "fontSize": 19.5, "align": "right", "baseline": "alphabetic"},
   "encoding": {"x": {"datum": 522.5, "type": "quantitative", "scale": {"domain": [450, 545], "nice": false}, "axis": null}, "y": {"datum": -8920, "type": "quantitative", "scale": {"domain": [0, 62000], "nice": false}, "axis": null}}},
  {"data": {"values": [{}]}, "mark": {"type": "text", "text": "ππ", "fontSize": 10, "align": "left", "baseline": "alphabetic"},
   "encoding": {"x": {"datum": 522.6, "type": "quantitative", "scale": {"domain": [450, 545], "nice": false}, "axis": null}, "y": {"datum": -10035, "type": "quantitative", "scale": {"domain": [0, 62000], "nice": false}, "axis": null}}}
 ]
},
{"width": 10, "height": 85, "data": {"values": [{}]}, "mark": {"type": "point", "opacity": 0}, "view": {"stroke": null}},
{
 "width": 403, "height": 282,
 "resolve": {"axis": {"x": "independent", "y": "independent"}},
 "layer": [
  {"data": {"name": "p4c"}, "transform": [{"filter": "datum.c == 'g'"}], "mark": {"type": "line", "color": "#3ee26c", "strokeWidth": 3, "interpolate": "monotone"},
   "encoding": {"x": {"field": "x", "type": "quantitative", "scale": {"domain": [1101, 1130], "nice": false}, "axis": {"orient": "bottom", "values": [1102,1104,1106,1108,1112,1114,1116,1118,1122,1124,1126,1128], "labels": false, "tickSize": -4.5, "title": null}},
                "y": {"field": "y", "type": "quantitative", "scale": {"domain": [0, 6450], "nice": false}, "axis": {"orient": "left", "values": [200,400,600,800,1200,1400,1600,1800,2200,2400,2600,2800,3200,3400,3600,3800,4200,4400,4600,4800,5200,5400,5600,5800,6200,6400], "labels": false, "tickSize": -4.5, "title": null}}}},
  {"data": {"name": "p4d"}, "mark": {"type": "circle", "color": "#000", "size": 30, "opacity": 1},
   "encoding": {"x": {"field": "x", "type": "quantitative", "scale": {"domain": [1101, 1130], "nice": false}, "axis": {"orient": "bottom", "values": [1110,1120,1130], "ticks": false, "labelPadding": 4, "labelFontSize": 15.5, "format": "d", "title": null}},
                "y": {"field": "y", "type": "quantitative", "scale": {"domain": [0, 6450], "nice": false}, "axis": {"orient": "left", "values": [0,1000,2000,3000,4000,5000,6000], "ticks": false, "labelPadding": 3, "labelFontSize": 15.5, "format": "d", "title": "Events / ( 0.29 MeV/c² )", "titleFontSize": 19.5, "titleAngle": 270, "titleAlign": "right", "titleBaseline": "alphabetic", "titleX": -40, "titleY": 0}}}},
  {"data": {"name": "p4c"}, "transform": [{"filter": "datum.c == 'y'"}], "mark": {"type": "line", "color": "#eeee3a", "strokeWidth": 2, "interpolate": "monotone"},
   "encoding": {"x": {"field": "x", "type": "quantitative", "scale": {"domain": [1101, 1130], "nice": false}, "axis": {"orient": "top", "values": [1102,1104,1106,1108,1112,1114,1116,1118,1122,1124,1126,1128], "labels": false, "tickSize": -4.5, "title": null}},
                "y": {"field": "y", "type": "quantitative", "scale": {"domain": [0, 6450], "nice": false}, "axis": {"orient": "right", "values": [200,400,600,800,1200,1400,1600,1800,2200,2400,2600,2800,3200,3400,3600,3800,4200,4400,4600,4800,5200,5400,5600,5800,6200,6400], "labels": false, "tickSize": -4.5, "title": null}}}},
  {"data": {"name": "p4c"}, "transform": [{"filter": "datum.c == 'b'"}], "mark": {"type": "line", "color": "#2a44f0", "strokeWidth": 2, "interpolate": "monotone"},
   "encoding": {"x": {"field": "x", "type": "quantitative", "scale": {"domain": [1101, 1130], "nice": false}, "axis": {"orient": "bottom", "values": [1110,1120], "labels": false, "tickSize": -9, "title": null}},
                "y": {"field": "y", "type": "quantitative", "scale": {"domain": [0, 6450], "nice": false}, "axis": {"orient": "left", "values": [1000,2000,3000,4000,5000,6000], "labels": false, "tickSize": -9, "title": null}}}},
  {"data": {"name": "p4c"}, "transform": [{"filter": "datum.c == 'r'"}], "mark": {"type": "line", "color": "#f01818", "strokeWidth": 2, "interpolate": "monotone"},
   "encoding": {"x": {"field": "x", "type": "quantitative", "scale": {"domain": [1101, 1130], "nice": false}, "axis": {"orient": "top", "values": [1110,1120], "labels": false, "tickSize": -9, "title": null}},
                "y": {"field": "y", "type": "quantitative", "scale": {"domain": [0, 6450], "nice": false}, "axis": {"orient": "right", "values": [1000,2000,3000,4000,5000,6000], "labels": false, "tickSize": -9, "title": null}}}},
  {"data": {"values": [{}]}, "mark": {"type": "rect", "fill": "white", "stroke": "#111", "strokeWidth": 1.5},
   "encoding": {"x": {"datum": 1116.7, "type": "quantitative", "scale": {"domain": [1101, 1130], "nice": false}, "axis": null}, "x2": {"datum": 1129.5},
                "y": {"datum": 6061, "type": "quantitative", "scale": {"domain": [0, 6450], "nice": false}, "axis": null}, "y2": {"datum": 5048}}},
  {"data": {"values": [{}]}, "mark": {"type": "text", "text": "bkgd_yield =  10744 ± 126", "fontSize": 13, "align": "left", "baseline": "alphabetic"},
   "encoding": {"x": {"datum": 1117.3, "type": "quantitative", "scale": {"domain": [1101, 1130], "nice": false}, "axis": null}, "y": {"datum": 5718, "type": "quantitative", "scale": {"domain": [0, 6450], "nice": false}, "axis": null}}},
  {"data": {"values": [{}]}, "mark": {"type": "text", "text": "peak_yield =  56975 ± 249", "fontSize": 13, "align": "left", "baseline": "alphabetic"},
   "encoding": {"x": {"datum": 1117.3, "type": "quantitative", "scale": {"domain": [1101, 1130], "nice": false}, "axis": null}, "y": {"datum": 5237, "type": "quantitative", "scale": {"domain": [0, 6450], "nice": false}, "axis": null}}},
  {"data": {"values": [{}]}, "mark": {"type": "text", "text": "LHCb", "fontSize": 21, "align": "left", "baseline": "alphabetic"},
   "encoding": {"x": {"datum": 1103.3, "type": "quantitative", "scale": {"domain": [1101, 1130], "nice": false}, "axis": null}, "y": {"datum": 5832, "type": "quantitative", "scale": {"domain": [0, 6450], "nice": false}, "axis": null}}},
  {"data": {"values": [{}]}, "mark": {"type": "text", "text": "Preliminary", "fontSize": 22.5, "align": "left", "baseline": "alphabetic"},
   "encoding": {"x": {"datum": 1103.3, "type": "quantitative", "scale": {"domain": [1101, 1130], "nice": false}, "axis": null}, "y": {"datum": 5299, "type": "quantitative", "scale": {"domain": [0, 6450], "nice": false}, "axis": null}}},
  {"data": {"values": [{}]}, "mark": {"type": "text", "text": "√s = 7 TeV Data", "fontSize": 16.2, "align": "left", "baseline": "alphabetic"},
   "encoding": {"x": {"datum": 1103.1, "type": "quantitative", "scale": {"domain": [1101, 1130], "nice": false}, "axis": null}, "y": {"datum": 4727, "type": "quantitative", "scale": {"domain": [0, 6450], "nice": false}, "axis": null}}},
  {"data": {"values": [{}]}, "mark": {"type": "text", "text": "Λ", "font": "Liberation Serif", "fontWeight": "normal", "fontSize": 54, "color": "#ff0000", "align": "center", "baseline": "alphabetic"},
   "encoding": {"x": {"datum": 1125.6, "type": "quantitative", "scale": {"domain": [1101, 1130], "nice": false}, "axis": null}, "y": {"datum": 3499, "type": "quantitative", "scale": {"domain": [0, 6450], "nice": false}, "axis": null}}},
  {"data": {"values": [{}]}, "mark": {"type": "text", "text": "(MeV/c²)", "fontSize": 19, "align": "right", "baseline": "alphabetic"},
   "encoding": {"x": {"datum": 1130, "type": "quantitative", "scale": {"domain": [1101, 1130], "nice": false}, "axis": null}, "y": {"datum": -915, "type": "quantitative", "scale": {"domain": [0, 6450], "nice": false}, "axis": null}}},
  {"data": {"values": [{}]}, "mark": {"type": "text", "text": "m", "fontSize": 19.5, "align": "right", "baseline": "alphabetic"},
   "encoding": {"x": {"datum": 1122.9, "type": "quantitative", "scale": {"domain": [1101, 1130], "nice": false}, "axis": null}, "y": {"datum": -915, "type": "quantitative", "scale": {"domain": [0, 6450], "nice": false}, "axis": null}}},
  {"data": {"values": [{}]}, "mark": {"type": "text", "text": "pπ", "fontSize": 10, "align": "left", "baseline": "alphabetic"},
   "encoding": {"x": {"datum": 1122.95, "type": "quantitative", "scale": {"domain": [1101, 1130], "nice": false}, "axis": null}, "y": {"datum": -1029, "type": "quantitative", "scale": {"domain": [0, 6450], "nice": false}, "axis": null}}}
 ]
}
]
}
